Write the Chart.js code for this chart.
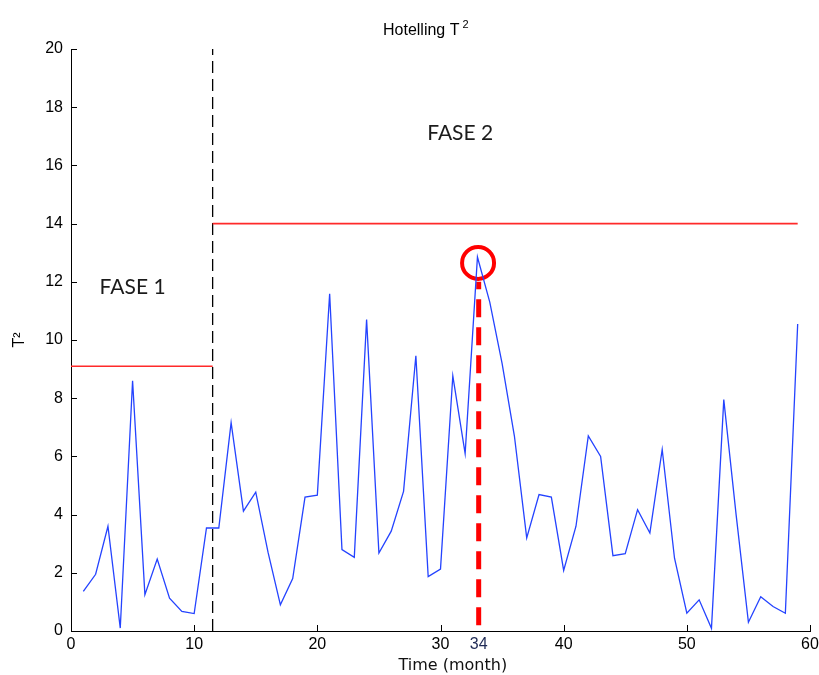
<!DOCTYPE html>
<html lang="es">
<head>
  <meta charset="UTF-8">
  <title>Hotelling T2</title>
  <script src="https://cdn.jsdelivr.net/npm/chart.js"></script>
  <style>
    body { margin: 0; background: #fff; }
    canvas { display: block; }
  </style>
</head>
<body>
<canvas id="t2Chart" width="819" height="675"></canvas>
<script>
// months on the x axis
const months = [1, 2, 3, 4, 5, 6, 7, 8, 9, 10, 11, 12, 13, 14, 15, 16, 17, 18, 19, 20,
  21, 22, 23, 24, 25, 26, 27, 28, 29, 30, 31, 32, 33, 34, 35, 36, 37, 38, 39, 40,
  41, 42, 43, 44, 45, 46, 47, 48, 49, 50, 51, 52, 53, 54, 55, 56, 57, 58, 59];
// T2 statistic
const t2Values = [1.36, 1.95, 3.6, 0.1, 8.6, 1.25, 2.47, 1.13, 0.67, 0.6,
  3.54, 3.54, 7.16, 4.12, 4.77, 2.7, 0.9, 1.8, 4.6, 4.67,
  11.59, 2.8, 2.53, 10.7, 2.68, 3.43, 4.8, 9.46, 1.87, 2.13,
  8.77, 6.1, 12.85, 11.3, 9.2, 6.7, 3.2, 4.69, 4.6, 2.08,
  3.6, 6.7, 6.0, 2.59, 2.66, 4.17, 3.37, 6.24, 2.5, 0.61,
  1.07, 0.09, 7.95, 4.0, 0.3, 1.18, 0.84, 0.61, 10.55];

const xTicks = [0, 10, 20, 30, 40, 50, 60];
const yTicks = [0, 2, 4, 6, 8, 10, 12, 14, 16, 18, 20];

// control limits and phase split
const phaseSplit = 11.5;
const lastMonth = 59;
const phase1Limit = 9.1;
const phase2Limit = 14;

// highlighted point (marked "34" in the figure)
const markX = 33.1;
const markLabel = '34';
const markTop = 12;
const circleX = 33.05;
const circleY = 12.65;

const phaseLabels = ['FASE 1', 'FASE 2'];
const phaseLabelX = [5.0, 31.6];
const phaseLabelY = [11.8, 17.1];

const chartTitle = 'Hotelling T';
const xTitle = 'Time (month)';
const xTitleAt = 31.0;

const tickFont = { family: 'Liberation Sans, Arial, sans-serif', size: 16 };

// inner tick marks, x tick labels, titles and the free text labels
const extras = {
  id: 'extras',
  afterDraw(chart) {
    const { ctx, chartArea: a, scales: { x, y } } = chart;
    ctx.save();
    ctx.strokeStyle = '#000';
    ctx.lineWidth = 1;
    ctx.beginPath();
    xTicks.forEach(v => {
      const px = Math.round(x.getPixelForValue(v)) + 0.5;
      ctx.moveTo(px, a.bottom);
      ctx.lineTo(px, a.bottom - 6);
    });
    yTicks.forEach(v => {
      const py = Math.round(y.getPixelForValue(v)) + 0.5;
      ctx.moveTo(a.left, py);
      ctx.lineTo(a.left + 6, py);
    });
    ctx.stroke();

    ctx.textAlign = 'center';
    ctx.textBaseline = 'top';
    ctx.font = '16px "Liberation Sans", Arial, sans-serif';
    ctx.fillStyle = '#000';
    xTicks.forEach(v => ctx.fillText(String(v), x.getPixelForValue(v), a.bottom + 6));
    ctx.fillStyle = '#1f2a55';
    ctx.fillText(markLabel, x.getPixelForValue(markX), a.bottom + 6);

    // axis title and chart title
    ctx.fillStyle = '#111';
    ctx.font = '16px "DejaVu Sans", sans-serif';
    ctx.textBaseline = 'alphabetic';
    ctx.fillText(xTitle, x.getPixelForValue(xTitleAt), a.bottom + 39);

    ctx.fillStyle = '#000';
    ctx.font = '16px "Liberation Sans", Arial, sans-serif';
    ctx.textAlign = 'left';
    const tx = 383;
    ctx.fillText(chartTitle, tx, 35);
    const tw = ctx.measureText(chartTitle).width;
    ctx.font = '11px "Liberation Sans", Arial, sans-serif';
    ctx.fillText('2', tx + tw + 3, 28);

    ctx.fillStyle = '#1b1b1b';
    ctx.font = '21px Lato, "Open Sans", sans-serif';
    ctx.textAlign = 'center';
    ctx.textBaseline = 'middle';
    phaseLabels.forEach((t, i) => {
      ctx.fillText(t, x.getPixelForValue(phaseLabelX[i]), y.getPixelForValue(phaseLabelY[i]));
    });
    ctx.restore();
  }
};

const seriesPoints = months.map((m, i) => ({ x: m, y: t2Values[i] }));

new Chart(document.getElementById('t2Chart'), {
  type: 'line',
  data: {
    datasets: [
      { data: seriesPoints, borderColor: '#2443ff', borderWidth: 1.3, pointRadius: 0, tension: 0 },
      { data: [{ x: 0, y: phase1Limit }, { x: phaseSplit, y: phase1Limit }],
        borderColor: '#ff2a2a', borderWidth: 1.6, pointRadius: 0 },
      { data: [{ x: phaseSplit, y: phase2Limit }, { x: lastMonth, y: phase2Limit }],
        borderColor: '#ff2a2a', borderWidth: 1.6, pointRadius: 0 },
      { data: [{ x: phaseSplit, y: 0 }, { x: phaseSplit, y: 20 }],
        borderColor: '#000', borderWidth: 1.3, borderDash: [12, 6], pointRadius: 0 },
      { data: [{ x: markX, y: 0.2 }, { x: markX, y: markTop }],
        borderColor: '#ff0000', borderWidth: 5, borderDash: [18, 10], pointRadius: 0 },
      { data: [{ x: circleX, y: circleY }], showLine: false, pointRadius: 16,
        pointBorderWidth: 4, pointBorderColor: '#ff0000', pointBackgroundColor: 'rgba(0,0,0,0)' }
    ]
  },
  options: {
    responsive: false,
    animation: false,
    layout: { autoPadding: false, padding: { left: 0, right: 9, top: 49, bottom: 0 } },
    plugins: {
      legend: { display: false },
      tooltip: { enabled: false },
      title: { display: false }
    },
    scales: {
      x: {
        type: 'linear', min: 0, max: 60,
        afterBuildTicks: s => { s.ticks = xTicks.map(v => ({ value: v })); },
        afterFit: s => { s.height = 44; },
        grid: { display: false, drawTicks: false },
        border: { color: '#000', width: 1 },
        ticks: { display: false }
      },
      y: {
        min: 0, max: 20,
        afterBuildTicks: s => { s.ticks = yTicks.map(v => ({ value: v })); },
        afterFit: s => { s.width = 71; },
        grid: { display: false, drawTicks: false },
        border: { color: '#000', width: 1 },
        ticks: { color: '#000', font: tickFont, padding: 8 },
        title: {
          display: true, text: 'T²', color: '#000',
          font: { family: 'Liberation Sans, Arial, sans-serif', size: 16 },
          padding: { top: 10, bottom: 0 }
        }
      }
    }
  },
  plugins: [extras]
});
</script>
</body>
</html>
